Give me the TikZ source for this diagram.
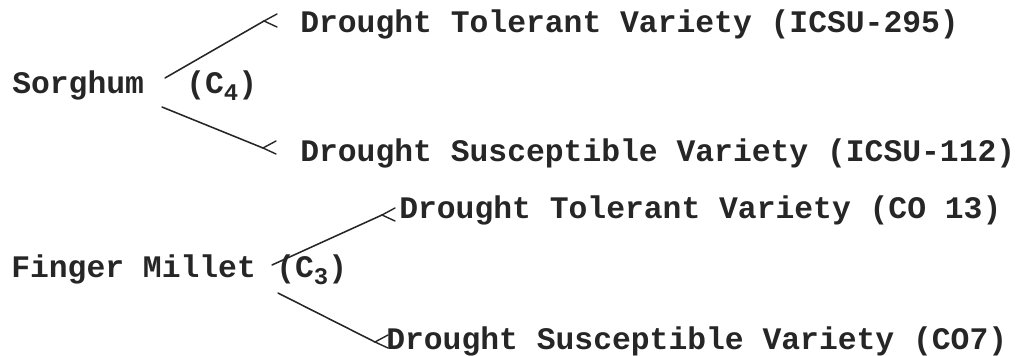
\documentclass[tikz,border=0pt]{standalone}
\usepackage{fontspec}
\setmonofont{Liberation Mono}

\newcommand{\subnum}[1]{\raisebox{-0.45ex}{\fontsize{17}{17}\selectfont #1}}

\begin{document}
\begin{tikzpicture}[x=0.025cm, y=-0.025cm,
  every node/.style={font=\ttfamily\bfseries\fontsize{22.3}{26}\selectfont,
                     text=black!85, inner sep=0pt, anchor=base west},
  branch/.style={line width=1.1pt, black!85, line cap=round},
  barb/.style={line width=1pt, black!85, line cap=round}
]
\useasboundingbox (0,0) rectangle (1024,355);

% crops
\node (sorg)  at (12,93)   {Sorghum};
\node (sorgC) at (186,93)  {(C\subnum{4})};
\node (mill)  at (11,277)  {Finger Millet};
\node (millC) at (276,277) {(C\subnum{3})};

% varieties
\node (sorgT) at (300,32)  {Drought Tolerant Variety (ICSU-295)};
\node (sorgS) at (300,161) {Drought Susceptible Variety (ICSU-112)};
\node (millT) at (399,218) {Drought Tolerant Variety (CO 13)};
\node (millS) at (386,349) {Drought Susceptible Variety (CO7)};

% forks and ends
\coordinate (sorgUp)  at (165,78);
\coordinate (sorgLo)  at (162,107);
\coordinate (millUp)  at (272,265);
\coordinate (millLo)  at (278,293);
\coordinate (sorgTe)  at (264,21);
\coordinate (sorgSe)  at (263,148);
\coordinate (millTe)  at (382,215);
\coordinate (millSe)  at (375,342);

\draw[branch] (sorgUp) -- (sorgTe);
\draw[branch] (sorgLo) -- (sorgSe);
\draw[branch] (millUp) -- (millTe);
\draw[branch] (millLo) -- (millSe);

% the small < marks
\foreach \e in {sorgTe,sorgSe,millTe,millSe}
  \draw[barb] ([shift={(13,-7)}]\e) -- (\e) -- ++(13,6);

\end{tikzpicture}
\end{document}
